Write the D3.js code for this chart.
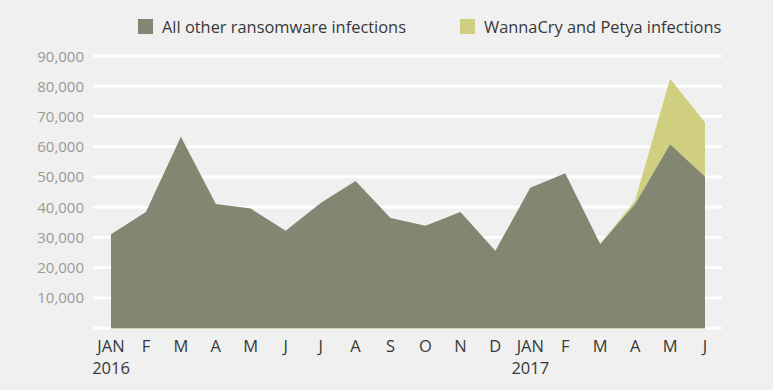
<!DOCTYPE html>
<html>
<head>
<meta charset="utf-8">
<script src="https://cdn.jsdelivr.net/npm/d3@7"></script>
<style>
  body { margin: 0; background: #eff0ef; }
  svg { display: block; font-family: "Open Sans", sans-serif; }
</style>
</head>
<body>
<svg id="chart" width="773" height="390"></svg>
<script>
// months Jan 2016 .. Jun 2017
var months = ["JAN", "F", "M", "A", "M", "J", "J", "A", "S", "O", "N", "D", "JAN", "F", "M", "A", "M", "J"];
var yearLabels = [[0, "2016"], [12, "2017"]];
var otherInfections = [31000, 38400, 63300, 41000, 39500, 32200, 41400, 48600, 36400, 33800, 38400, 25600, 46400, 51200, 27800, 41000, 60800, 50100];
var wannaCryPetya = [0, 0, 0, 0, 0, 0, 0, 0, 0, 0, 0, 0, 0, 0, 0, 1200, 21700, 17900];
var yTicks = [10000, 20000, 30000, 40000, 50000, 60000, 70000, 80000, 90000];
var seriesNames = ["All other ransomware infections", "WannaCry and Petya infections"];
var colors = ["#838670", "#cfcf7f"];

var svg = d3.select("#chart");
var gridLeft = 93, gridRight = 722;

var x = d3.scaleLinear().domain([0, months.length - 1]).range([111, 705]);
var y = d3.scaleLinear().domain([0, 90000]).range([328, 56]);

// gridlines (including zero line)
svg.selectAll("line.grid").data([0].concat(yTicks)).enter().append("line")
    .attr("class", "grid")
    .attr("x1", gridLeft).attr("x2", gridRight)
    .attr("y1", function(d){ return y(d); }).attr("y2", function(d){ return y(d); })
    .style("stroke", "#ffffff").style("stroke-width", 2.7);

// y tick labels
svg.selectAll("text.ytick").data(yTicks).enter().append("text")
    .attr("class", "ytick")
    .attr("x", 84).attr("y", function(d){ return y(d) + 5.5; })
    .attr("text-anchor", "end")
    .style("font-size", "15px").style("fill", "#9a9a9a")
    .text(d3.format(","));

// stacked areas
var idx = d3.range(months.length);
var areaOther = d3.area()
    .x(function(i){ return x(i); })
    .y0(y(0))
    .y1(function(i){ return y(otherInfections[i]); });
var areaWanna = d3.area()
    .x(function(i){ return x(i); })
    .y0(function(i){ return y(otherInfections[i]); })
    .y1(function(i){ return y(otherInfections[i] + wannaCryPetya[i]); });

svg.append("path").datum(idx).attr("d", areaWanna).style("fill", colors[1]);
svg.append("path").datum(idx).attr("d", areaOther).style("fill", colors[0]);
// thin base line of the yellow series
svg.append("line")
    .attr("x1", x(0)).attr("x2", x(months.length - 1))
    .attr("y1", y(0) + 0.5).attr("y2", y(0) + 0.5)
    .style("stroke", "#d4d6a8").style("stroke-width", 1.2);

// x labels
svg.selectAll("text.xtick").data(months).enter().append("text")
    .attr("class", "xtick")
    .attr("x", function(d, i){ return x(i); }).attr("y", 352)
    .attr("text-anchor", "middle")
    .style("font-size", "16.5px").style("fill", "#383838")
    .text(function(d){ return d; });
svg.selectAll("text.year").data(yearLabels).enter().append("text")
    .attr("class", "year")
    .attr("x", function(d){ return x(d[0]); }).attr("y", 374)
    .attr("text-anchor", "middle")
    .style("font-size", "16.5px").style("fill", "#383838")
    .text(function(d){ return d[1]; });

// legend
var legendX = [138, 460];
seriesNames.forEach(function(name, i){
    svg.append("rect").attr("x", legendX[i]).attr("y", 19).attr("width", 15).attr("height", 15)
        .style("fill", colors[i]);
    svg.append("text").attr("x", legendX[i] + 24).attr("y", 33)
        .style("font-size", "16.4px").style("fill", "#383838")
        .text(name);
});
</script>
</body>
</html>
